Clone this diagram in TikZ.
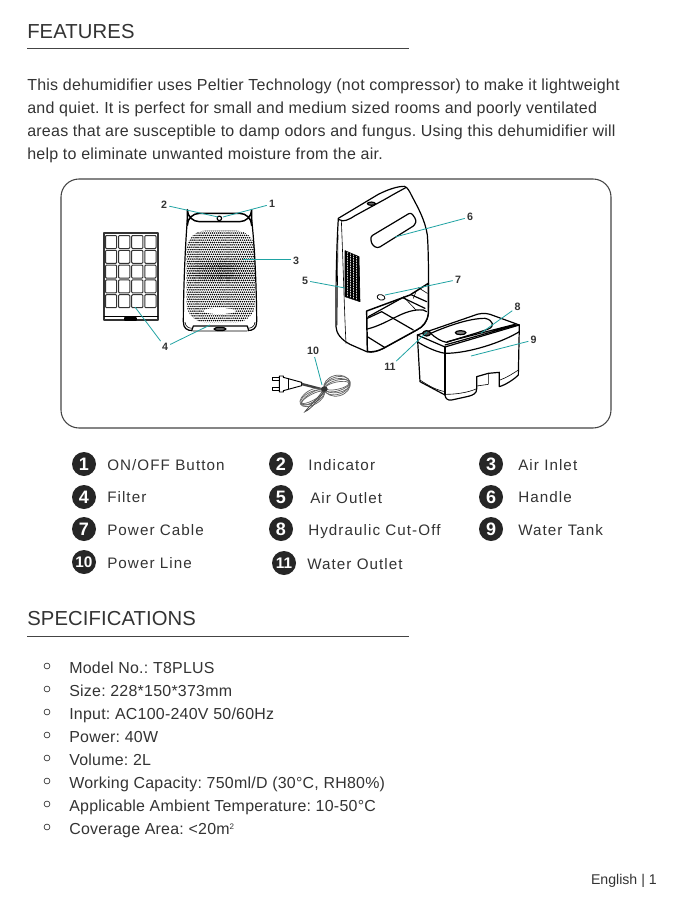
\documentclass[tikz,border=0pt]{standalone}
\usepackage{fontspec}
\setmainfont{Liberation Sans}
\newfontfamily\bodyf[LetterSpace=1.6]{Liberation Sans}
\newfontfamily\lgdf[LetterSpace=7]{Liberation Sans}
\newfontfamily\headf[LetterSpace=0.5]{Liberation Sans}
\definecolor{ink}{HTML}{333333}
\definecolor{teal1}{HTML}{1FA3A3}
\definecolor{disc}{HTML}{262626}
\definecolor{rulec}{HTML}{444444}
\tikzset{
  head/.style={anchor=west,inner sep=0,text=ink,font=\headf\fontsize{15.2}{15}\selectfont},
  bodyline/.style={anchor=base west,inner sep=0,text=ink,font=\bodyf\fontsize{12}{12}\selectfont\frenchspacing},
  lgd/.style={anchor=base west,inner sep=0,text=ink,font=\lgdf\fontsize{11.4}{12}\selectfont},
  spec/.style={anchor=base west,inner sep=0,text=ink,font=\bodyf\fontsize{11.95}{12}\selectfont\frenchspacing},
  num/.style={circle,fill=disc,draw=none,minimum size=18pt,inner sep=0,text=white,font=\bfseries\fontsize{13.5}{13}\selectfont},
  numb/.style={num,font=\bfseries\fontsize{11.5}{12}\selectfont},
  call/.style={inner sep=1.5pt,text=ink,font=\bfseries\fontsize{8}{8}\selectfont},
  lead/.style={draw=teal1,line width=0.6pt},
  heavy/.style={draw=black,line width=0.9pt,line join=round,line cap=round},
  thin1/.style={draw=black,line width=0.45pt,line join=round,line cap=round},
  bul/.style={circle,draw=ink,line width=0.5pt,minimum size=4.4pt,inner sep=0},
  hrule/.style={draw=rulec,line width=0.6pt}
}
\begin{document}
\begin{tikzpicture}[x=0.75pt,y=-0.75pt]
\useasboundingbox (0,0) rectangle (672,899);
\fill[white] (0,0) rectangle (672,899);
% headings
\node[head] (hf) at (27,31.5) {FEATURES};
\coordinate (r1a) at (27,48.5); \coordinate (r1b) at (409,48.5);
\draw[hrule] (r1a) -- (r1b);
\node[bodyline] (t1) at (27,90.5) {This dehumidifier uses Peltier Technology (not compressor) to make it lightweight};
\node[bodyline] (t2) at (27,113.5) {and quiet. It is perfect for small and medium sized rooms and poorly ventilated};
\node[bodyline] (t3) at (27,136.5) {areas that are susceptible to damp odors and fungus. Using this dehumidifier will};
\node[bodyline] (t4) at (27,159) {help to eliminate unwanted moisture from the air.};
% panel
\draw[draw=rulec,line width=0.8pt,rounded corners=13.5pt] (61,179) rectangle (611,428);

% filter
\draw[heavy,draw=black!80,fill=white] (104,233) rectangle (158,320);
\foreach \c in {0,1,2,3}{\foreach \r in {0,1,2,3,4}{
  \draw[thin1,draw=black!80,line width=0.75pt,rounded corners=0.7pt] ({105.5+\c*13.1},{235.5+\r*14.8}) rectangle ++(11.2,13);
}}
\draw[thin1] (104,316) -- (158,316);
\draw[heavy,fill=black!70] (125,318) rectangle (136,320);

% front unit
\begin{scope}[shift={(90,185)},x=0.25pt,y=-0.25pt]
\draw[heavy] (292,105) .. controls (285,190) and (280,330) .. (280,410) .. controls (280,430) and (290,437) .. (310,437) -- (470,437) .. controls (490,437) and (500,430) .. (500,410) .. controls (500,330) and (495,190) .. (485,105);
\draw[heavy,line width=1.1pt,fill=white,rounded corners=9pt] (292,85) rectangle (485,110);
\draw[thin1] (285,412) .. controls (287,425) and (295,430) .. (310,430) (495,412) .. controls (493,425) and (485,430) .. (470,430);
\begin{scope}
\clip[rounded corners=14pt] (290,137) rectangle (495,412);
\foreach \i in {0,...,34}{\foreach \j in {0,...,39}{
  \pgfmathsetmacro{\px}{290+\i*6.2+mod(\j,2)*3.1}
  \pgfmathsetmacro{\py}{137+\j*7.1}
  \pgfmathsetmacro{\rr}{2.5+0.9*exp(-((\px-390)/80)^2-((\py-245)/18)^2)+0.9*exp(-((\px-390)/80)^2-((\py-275)/12)^2)}
  \fill[black] (\px,\py) circle[radius=\rr*0.25pt];
}}
\end{scope}
\fill[white] (388,378) ellipse[x radius=48*0.25pt,y radius=9*0.25pt];
\draw[heavy,fill=white] (305,437) -- (310,423) -- (472,423) -- (476,437);
\draw[heavy,fill=black!60] (390,432) ellipse[x radius=4.5pt,y radius=1.2pt];
\draw[heavy,fill=white] (388,100) circle[radius=1.7pt];
\end{scope}

% rear unit
\begin{scope}[shift={(310,185)},x=0.25pt,y=-0.25pt]
\draw[heavy,fill=white] (85,100) -- (205,28) .. controls (235,13) and (262,4) .. (283,4) .. controls (292,6) and (298,18) .. (305,32) .. controls (325,70) and (345,105) .. (352,150) .. controls (356,200) and (356,300) .. (355,385) .. controls (352,410) and (340,425) .. (320,435) -- (220,490) .. controls (200,500) and (185,503) .. (170,500) -- (120,478) .. controls (95,465) and (78,445) .. (78,425) .. controls (77,300) and (80,180) .. (85,100) -- cycle;
\draw[heavy] (88,104) .. controls (100,112) and (115,105) .. (135,92) -- (230,40) .. controls (255,25) and (275,15) .. (287,8);
\draw[heavy,fill=black!60] (184,56) ellipse[x radius=3pt,y radius=1.2pt];
\draw[thin1] (94,106) .. controls (100,250) and (103,380) .. (108,475);
\draw[thin1] (84,150) -- (81,420);
% vent
\begin{scope}
\clip (105,197) -- (147,215) -- (150,350) -- (105,335) -- cycle;
\foreach \k in {0,...,32}{\draw[black,line width=0.45pt] (100,{190+\k*5}) -- (155,{208+\k*5});}
\foreach \k in {0,...,10}{\draw[black,line width=0.3pt] ({105+\k*4.4},190) -- ({105+\k*4.4},355);}
\end{scope}
\draw[thin1] (105,197) -- (147,215) -- (150,350) -- (105,335) -- cycle;
% handle recess
\draw[heavy,rounded corners=2pt] (181,155) -- (303,82) -- (319,105) -- (315,120) -- (203,190) -- (186,180) -- cycle;
% button
\draw[thin1,line width=0.6pt,rotate around={-15:(213,337)}] (213,337) ellipse[x radius=3pt,y radius=2pt];
% cavity
\draw[heavy,line width=1.1pt,fill=white] (170,378) -- (300,330) -- (355,295) -- (355,385) .. controls (352,410) and (340,425) .. (320,435) -- (220,490) .. controls (205,498) and (190,502) .. (172,500) -- cycle;
\draw[heavy] (172,432) .. controls (240,415) and (280,370) .. (340,375) -- (350,380);
\draw[heavy] (172,400) -- (215,380) -- (310,435);
\draw[heavy] (172,455) -- (225,488);
\draw[heavy] (175,395) -- (278,338) -- (345,370);
\draw[heavy] (305,330) -- (350,350);
\draw[thin1] (325,308) -- (352,325);
\draw[thin1] (280,335) -- (318,375);
\draw[thin1] (318,320) -- (310,340);
% tank
\draw[heavy,fill=white] (322,450) -- (490,392) .. controls (505,385) and (525,383) .. (540,388) -- (628,420) -- (625,570) .. controls (610,585) and (585,600) .. (568,605) -- (568,562) -- (535,565) -- (500,575) -- (500,612) .. controls (500,625) and (490,630) .. (475,634) -- (425,645) .. controls (412,647) and (406,640) .. (405,630) -- (330,590) -- cycle;
\draw[heavy] (322,450) -- (405,486) -- (628,420);
\draw[heavy] (405,486) -- (405,630);
\draw[heavy] (322,470) .. controls (340,482) and (375,500) .. (405,505) .. controls (480,505) and (580,470) .. (628,440);
\draw[heavy] (405,480) -- (620,420) (412,470) -- (615,418);
\draw[thin1] (330,585) .. controls (360,605) and (380,615) .. (405,620) (407,628) .. controls (440,628) and (475,622) .. (498,612) (570,585) .. controls (590,578) and (610,565) .. (625,555);
\draw[thin1] (535,565) -- (535,598) -- (500,603);
\draw[heavy] (362,445) .. controls (420,420) and (480,400) .. (525,400) .. controls (550,405) and (555,425) .. (535,432) .. controls (500,445) and (460,455) .. (410,472);
\draw[heavy] (362,445) .. controls (375,458) and (395,470) .. (410,472);
\draw[heavy,fill=black!50] (452,443) ellipse[x radius=4pt,y radius=1.5pt];
\draw[heavy,fill=black!70] (350,445) ellipse[x radius=3pt,y radius=2pt];
\end{scope}

% power cord
\begin{scope}[shift={(260,340)},x=0.25pt,y=-0.25pt]
\draw[thin1,line width=0.7pt,fill=white] (38,112) -- (58,112) -- (58,122) -- (38,122) -- cycle;
\draw[thin1,line width=0.7pt,fill=white] (38,142) -- (58,142) -- (58,152) -- (38,152) -- cycle;
\draw[thin1,line width=0.7pt,fill=white] (58,108) -- (70,108) -- (70,112) -- (125,127) -- (125,137) -- (70,152) -- (70,156) -- (58,156) -- cycle;
\draw[thin1,line width=0.7pt] (85,116) -- (85,146);
\draw[black!75,line width=0.9pt] (125,130) -- (190,147) (125,134) -- (190,150);
\foreach \a/\b/\c in {14/40/31,18/41/26,10/39/21,16/40/16,12/36/11}{
  \draw[black!60,line width=0.55pt,rotate around={\a:(231,137)}] (231,137) ellipse[x radius=\b*0.25pt,y radius=\c*0.25pt];
}
\foreach \a/\b/\c in {30/41/22,26/38/17,33/39/13,28/36/9}{
  \draw[black!60,line width=0.55pt,rotate around={\a:(157,172)}] (157,172) ellipse[x radius=\b*0.25pt,y radius=\c*0.25pt];
}
\draw[black!70,line width=0.6pt] (190,150) .. controls (170,180) and (150,195) .. (135,215) .. controls (150,210) and (180,175) .. (195,150);
\fill[black!80] (193,147) ellipse[x radius=2.5pt,y radius=2pt];
\end{scope}

% callouts
\node[call] (c1) at (272,204) {1};
\node[call] (c2) at (164,205) {2};
\node[call] (c3) at (296,261) {3};
\node[call] (c4) at (165,347) {4};
\node[call] (c5) at (305,280.5) {5};
\node[call] (c6) at (470,217) {6};
\node[call] (c7) at (458,279.5) {7};
\node[call] (c8) at (517.5,307) {8};
\node[call] (c9) at (533.5,340) {9};
\node[call] (c10) at (313,351) {10};
\node[call] (c11) at (390,367) {11};
\coordinate (p1) at (223,217);
\coordinate (p2) at (218,217);
\coordinate (p3) at (243,259);
\coordinate (p4a) at (135,307);
\coordinate (p4b) at (210,325);
\coordinate (p5) at (345,288);
\coordinate (p6) at (395,237);
\coordinate (p7) at (385,295);
\coordinate (p8) at (481,333);
\coordinate (p9) at (471,356);
\coordinate (p10) at (322,385);
\coordinate (p11) at (427,332);
\draw[lead] (c1) -- (p1);
\draw[lead] (c2) -- (p2);
\draw[lead] (c3.west |- p3) -- (p3);
\draw[lead] (c4) -- (p4a);
\draw[lead] (c4) -- (p4b);
\draw[lead] (c5) -- (p5);
\draw[lead] (c6) -- (p6);
\draw[lead] (c7) -- (p7);
\draw[lead] (c8) -- (p8);
\draw[lead] (c9) -- (p9);
\draw[lead] (c10) -- (p10);
\draw[lead] (c11) -- (p11);

% legend
\node[num] (n1) at (84,464) {1};
\node[num] (n4) at (84,497) {4};
\node[num] (n7) at (84,529) {7};
\node[numb] (n10) at (84,562) {10};
\node[num] (n2) at (281,464) {2};
\node[num] (n5) at (281,497) {5};
\node[num] (n8) at (281,529) {8};
\node[numb] (n11) at (284,563) {11};
\node[num] (n3) at (491,464) {3};
\node[num] (n6) at (491,497) {6};
\node[num] (n9) at (491,529) {9};
\node[lgd] (l1) at (107,470) {ON/OFF Button};
\node[lgd] (l4) at (107,502.5) {Filter};
\node[lgd] (l7) at (107,535) {Power Cable};
\node[lgd] (l10) at (107,568) {Power Line};
\node[lgd] (l2) at (308,470) {Indicator};
\node[lgd] (l5) at (310,503) {Air Outlet};
\node[lgd] (l8) at (308,535) {Hydraulic Cut-Off};
\node[lgd] (l11) at (307,569.5) {Water Outlet};
\node[lgd] (l3) at (518,470) {Air Inlet};
\node[lgd] (l6) at (518,502.5) {Handle};
\node[lgd] (l9) at (518,535) {Water Tank};

% specifications
\node[head] (hs) at (27,619) {SPECIFICATIONS};
\coordinate (r2a) at (27,636.5); \coordinate (r2b) at (409,636.5);
\draw[hrule] (r2a) -- (r2b);
\foreach \y/\n/\t in {666/1/{Model No.: T8PLUS},689/2/{Size: 228*150*373mm},712/3/{Input: AC100-240V 50/60Hz},735/4/{Power: 40W},758/5/{Volume: 2L},781/6/{Working Capacity: 750ml/D (30°C, RH80\%)},804/7/{Applicable Ambient Temperature: 10-50°C},827/8/{Coverage Area: <20m\raisebox{0.55ex}{\fontsize{6}{6}\selectfont 2}}}{
  \node[bul] (b\n) at (47,\y) {};
  \node[spec] (s\n) at (69,\y+7) {\t};
}
\node[anchor=east,inner sep=0,text=ink,font=\fontsize{10.6}{12}\selectfont] (foot) at (657,881) {English | 1};
\end{tikzpicture}
\end{document}
